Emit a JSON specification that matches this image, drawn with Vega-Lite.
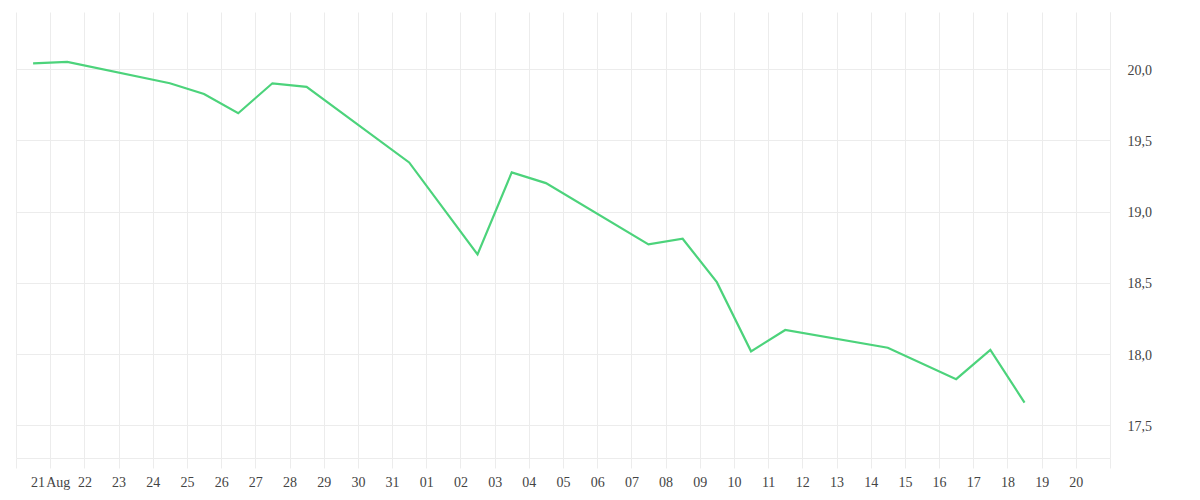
{
  "$schema": "https://vega.github.io/schema/vega-lite/v6.json",
  "width": 1094,
  "height": 446,
  "autosize": {"type": "none"},
  "padding": {"left": 16, "top": 12, "right": 90, "bottom": 42},
  "background": "white",
  "config": {
    "view": {"stroke": null},
    "font": "Liberation Serif",
    "axis": {
      "labelFont": "Liberation Serif",
      "labelFontSize": 14,
      "labelColor": "#444444",
      "gridColor": "#ececec",
      "gridWidth": 1,
      "domainColor": "#ececec",
      "tickColor": "#ececec"
    }
  },
  "data": {
    "values": [
      {"date": "2020-08-20T12:00:00", "value": 20.04},
      {"date": "2020-08-21T12:00:00", "value": 20.05},
      {"date": "2020-08-24T12:00:00", "value": 19.90},
      {"date": "2020-08-25T12:00:00", "value": 19.825},
      {"date": "2020-08-26T12:00:00", "value": 19.69},
      {"date": "2020-08-27T12:00:00", "value": 19.90},
      {"date": "2020-08-28T12:00:00", "value": 19.875},
      {"date": "2020-08-31T12:00:00", "value": 19.345},
      {"date": "2020-09-02T12:00:00", "value": 18.70},
      {"date": "2020-09-03T12:00:00", "value": 19.275},
      {"date": "2020-09-04T12:00:00", "value": 19.20},
      {"date": "2020-09-07T12:00:00", "value": 18.77},
      {"date": "2020-09-08T12:00:00", "value": 18.81},
      {"date": "2020-09-09T12:00:00", "value": 18.505},
      {"date": "2020-09-10T12:00:00", "value": 18.02},
      {"date": "2020-09-11T12:00:00", "value": 18.17},
      {"date": "2020-09-14T12:00:00", "value": 18.045},
      {"date": "2020-09-16T12:00:00", "value": 17.825},
      {"date": "2020-09-17T12:00:00", "value": 18.03},
      {"date": "2020-09-18T12:00:00", "value": 17.66}
    ]
  },
  "mark": {"type": "line", "color": "#4cd37b", "strokeWidth": 2.2, "clip": true},
  "encoding": {
    "x": {
      "field": "date",
      "type": "temporal",
      "scale": {
        "domain": [
          {"year": 2020, "month": 8, "date": 20},
          {"year": 2020, "month": 9, "date": 21}
        ],
        "nice": false
      },
      "axis": {
        "title": null,
        "tickCount": {"interval": "day", "step": 1},
        "tickSize": 10,
        "labelPadding": 7,
        "labelOverlap": false,
        "labelFlush": false,
        "grid": true,
        "domain": true,
        "labelExpr": "(month(datum.value) == 7 && date(datum.value) == 20) || (month(datum.value) == 8 && date(datum.value) == 21) ? '' : (month(datum.value) == 7 && date(datum.value) == 21 ? '21\u200aAug' : timeFormat(datum.value, '%d'))"
      }
    },
    "y": {
      "field": "value",
      "type": "quantitative",
      "scale": {"domain": [17.272, 20.40], "nice": false, "zero": false},
      "axis": {
        "title": null,
        "orient": "right",
        "values": [17.5, 18.0, 18.5, 19.0, 19.5, 20.0],
        "ticks": false,
        "labelPadding": 17,
        "labelOffset": 1,
        "domain": true,
        "grid": true,
        "labelExpr": "replace(format(datum.value, '.1f'), '.', ',')"
      }
    }
  }
}
